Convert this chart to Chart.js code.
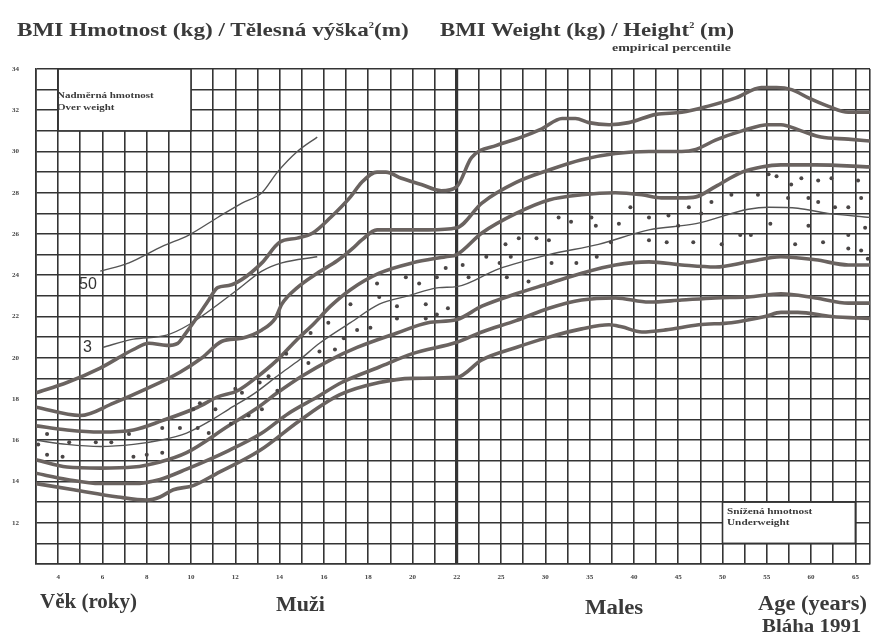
<!DOCTYPE html>
<html>
<head>
<meta charset="utf-8">
<script src="https://cdn.jsdelivr.net/npm/chart.js@4.4.1/dist/chart.umd.min.js"></script>
<style>
  body { margin: 0; background: #fff; }
  #wrap { position: relative; width: 879px; height: 635px; overflow: hidden; background: #fff; }
  #bmiChart { position: absolute; left: 0; top: 0; }
  .t { position: absolute; font-family: "Liberation Serif", "DejaVu Serif", serif; font-weight: bold;
       color: #3a3a3a; white-space: nowrap; line-height: 1; transform-origin: 0 0; }
  .s { position: absolute; font-family: "Liberation Sans", Arial, sans-serif; color: #333; line-height: 1; }
  sup { font-size: 0.45em; vertical-align: 0.9em; }
</style>
</head>
<body>
<div id="wrap">
  <canvas id="bmiChart" width="879" height="635"></canvas>

  <div class="t" style="left:17px;top:20px;font-size:19px;transform:scaleX(1.22)">BMI Hmotnost (kg) / Tělesná výška<sup>2</sup>(m)</div>
  <div class="t" style="left:440px;top:20px;font-size:19px;transform:scaleX(1.2)">BMI Weight (kg) / Height<sup>2</sup> (m)</div>
  <div class="t" style="left:612px;top:42px;font-size:11px;transform:scaleX(1.27)">empirical percentile</div>

  <div class="t" style="left:57px;top:91px;font-size:9px;transform:scaleX(1.22)">Nadměrná hmotnost</div>
  <div class="t" style="left:57px;top:103px;font-size:9px;transform:scaleX(1.22)">Over weight</div>
  <div class="t" style="left:727px;top:507px;font-size:9px;transform:scaleX(1.25)">Snížená hmotnost</div>
  <div class="t" style="left:727px;top:518px;font-size:9px;transform:scaleX(1.25)">Underweight</div>

  <div class="s" style="left:79px;top:276px;font-size:16px">50</div>
  <div class="s" style="left:83px;top:339px;font-size:16px">3</div>

  <div class="t" style="left:40px;top:591px;font-size:21px">Věk (roky)</div>
  <div class="t" style="left:276px;top:594px;font-size:20px;transform:scaleX(1.1)">Muži</div>
  <div class="t" style="left:585px;top:597px;font-size:20px;transform:scaleX(1.14)">Males</div>
  <div class="t" style="left:758px;top:593px;font-size:20px;transform:scaleX(1.12)">Age (years)</div>
  <div class="t" style="left:762px;top:616px;font-size:19px;transform:scaleX(1.1)">Bláha 1991</div>
</div>

<script>
// percentile curves, [age, BMI]
const p97 = [[3,18.3],[4.4,18.8],[5.9,19.5],[7.4,20.4],[8.1,20.7],[8.9,20.6],[9.4,20.7],[9.7,21.1],[10.3,22.0],[10.8,22.8],[11.2,23.4],[11.7,23.5],[12.3,23.8],[13.2,24.6],[14.0,25.6],[14.8,25.8],[15.5,26.05],[16.3,26.8],[17.2,27.8],[17.7,28.5],[18.4,29.0],[18.8,29.0],[19.5,28.7],[20.4,28.4],[21.3,28.1],[22,28.3],[23.0,29.7],[24.7,30.3],[27.0,30.65],[29.6,31.1],[31.9,31.6],[33.4,31.6],[34.9,31.4],[37.2,31.3],[39.4,31.4],[42.5,31.8],[45.4,31.9],[48.4,32.2],[51.5,32.6],[54.4,33.1],[56.1,33.1],[57.8,33.0],[59.7,32.6],[61.9,32.2],[64.2,31.9],[66.8,31.9]];
const p90 = [[3,17.6],[5.0,17.2],[6.5,17.8],[8.0,18.5],[9.5,19.3],[10.5,20.0],[11.4,20.8],[12.3,20.95],[13.2,21.35],[13.8,21.9],[14.1,22.6],[14.8,23.4],[15.7,24.1],[16.6,24.7],[17.3,25.3],[17.7,25.7],[18.4,26.2],[19.3,26.2],[20.7,26.2],[22,26.3],[23.7,27.5],[26.7,28.5],[30.4,29.1],[34.1,29.6],[37.9,29.9],[41.7,30.0],[45.4,30.0],[47.0,30.1],[49.2,30.55],[52.2,31.0],[55.2,31.3],[56.6,31.3],[58.9,31.0],[61.1,30.7],[64.2,30.6],[66.8,30.5]];
const p75 = [[3,16.7],[4.4,16.5],[5.9,16.4],[7.4,16.5],[8.7,16.95],[10.3,17.6],[11.2,18.1],[12.1,18.4],[12.9,19.0],[13.9,19.9],[14.8,20.9],[15.5,21.6],[16.3,22.5],[17.2,23.3],[18.5,24.1],[20.0,24.6],[21.5,24.9],[22,25.0],[23.7,26.05],[26.7,27.0],[30.4,27.65],[34.1,27.9],[37.9,28.0],[40.9,27.9],[43.1,27.75],[45.4,27.75],[47.0,27.8],[49.2,28.3],[52.2,29.0],[54.4,29.25],[56.6,29.35],[60.5,29.35],[66.8,29.25]];
const p50 = [[3,16.0],[4.4,15.8],[5.9,15.7],[7.4,15.8],[8.6,16.0],[9.8,16.35],[10.8,16.9],[11.7,17.5],[12.9,18.3],[14.0,19.2],[14.9,19.9],[15.8,20.7],[17.2,21.7],[18.5,22.6],[19.8,23.0],[21.2,23.4],[22,23.45],[24.8,24.3],[30.4,25.0],[36.0,25.5],[41.7,26.2],[47.0,26.5],[52.9,27.2],[55.2,27.3],[58.5,27.25],[61.9,27.0],[66.8,26.8]];
const p25 = [[3,15.05],[4.4,14.7],[5.9,14.65],[7.4,14.7],[8.6,14.95],[9.8,15.4],[11.7,16.7],[12.9,17.5],[13.9,18.3],[15.0,19.1],[16.3,19.9],[17.5,20.5],[19.3,21.2],[20.7,21.7],[22,21.85],[23.7,22.5],[26.7,23.1],[30.4,23.6],[34.1,24.1],[37.9,24.5],[41.7,24.65],[45.4,24.5],[49.2,24.4],[52.9,24.65],[56.6,24.9],[60.5,24.75],[64.2,24.5],[66.8,24.5]];
const p10 = [[3,14.4],[4.4,14.1],[5.9,13.9],[7.4,13.9],[8.6,14.1],[9.8,14.6],[11.7,15.5],[13.2,16.35],[14.4,17.3],[15.7,18.1],[16.8,18.8],[18.5,19.55],[20.0,20.2],[22,20.75],[23.7,21.25],[26.7,21.8],[30.4,22.4],[34.1,22.8],[37.9,22.9],[41.7,22.7],[45.4,22.8],[49.2,22.9],[52.9,22.95],[56.6,23.1],[60.5,22.9],[64.2,22.65],[66.8,22.65]];
const p3 = [[3,13.9],[4.7,13.6],[6.7,13.25],[8.0,13.1],[8.6,13.25],[9.2,13.6],[10.1,13.8],[11.1,14.35],[13.1,15.5],[14.9,16.95],[16.7,18.2],[18.5,18.8],[20.0,19.0],[22,19.05],[23.7,19.9],[26.7,20.5],[30.4,21.0],[34.1,21.4],[37.2,21.6],[38.6,21.5],[40.9,21.25],[43.6,21.35],[47.3,21.6],[51.0,21.7],[54.8,22.0],[56.6,22.2],[58.5,22.2],[62.3,22.0],[66.8,21.9]];

// older thin reference lines labelled "50" and "3"
const ref50 = [[5.9,24.2],[7.2,24.6],[8.7,25.4],[9.9,25.95],[11.2,26.8],[12.3,27.5],[13.2,28.0],[13.9,29.0],[14.8,30.0],[15.7,30.7]];
const ref3 = [[6.0,20.5],[7.4,20.9],[8.9,21.1],[9.9,21.6],[12.1,23.3],[13.2,24.2],[14.1,24.6],[15.7,24.9]];

// dots marking the 25-75 band
const bandDots = [[3.1,15.8],[3.5,16.3],[3.5,15.3],[4.2,15.2],[4.5,15.9],[5.7,15.9],[6.4,15.9],[7.2,16.3],[7.4,15.2],[8.0,15.3],[8.7,16.6],[8.7,15.4],[9.5,16.6],[10.3,16.6],[10.8,16.35],[10.4,17.8],[11.1,17.5],[10.1,17.5],[12.0,18.5],[12.3,18.3],[11.8,16.8],[12.6,17.2],[13.1,18.8],[13.2,17.5],[13.5,19.1],[13.9,18.4],[14.3,20.2],[15.3,19.75],[15.4,21.2],[15.8,20.3],[16.2,21.7],[16.5,20.4],[16.9,20.95],[17.2,22.6],[17.5,21.35],[18.1,21.45],[18.4,23.6],[18.5,22.95],[19.3,22.5],[19.3,21.9],[19.7,23.9],[20.3,23.6],[20.6,22.6],[20.6,21.9],[21.1,23.9],[21.1,22.1],[21.5,24.35],[21.6,22.4],
  [22.4,24.5],[22.8,23.9],[24.0,24.9],[24.9,24.6],[25.65,23.9],[26.1,24.9],[28.1,23.7],[25.5,25.5],[27.0,25.8],[29.0,25.8],[30.4,25.7],[30.7,24.6],[33.5,24.6],[31.5,26.8],[32.9,26.6],[35.2,26.8],[35.7,26.4],[35.8,24.9],[37.4,25.6],[38.3,26.5],[39.6,27.3],[41.7,26.8],[41.7,25.7],[43.7,25.6],[43.9,26.9],[45.0,26.4],[46.2,27.3],[46.7,25.6],[47.6,27.0],[48.75,27.55],[49.9,25.5],[51.0,27.9],[52.0,25.95],[53.2,25.95],[54.0,27.9],[55.2,28.9],[56.1,28.8],[55.4,26.5],[57.75,28.4],[57.4,27.75],[58.2,25.5],[58.9,28.7],[59.7,27.75],[59.7,26.4],[60.8,28.6],[60.8,27.55],[61.35,25.6],[62.3,28.7],[62.7,27.3],[64.2,27.3],[64.2,25.95],[64.2,25.3],[65.3,28.6],[65.65,27.75],[65.65,25.2],[66.1,26.3],[66.4,24.8]];

const ageLabels = [4,6,8,10,12,14,16,18,20,22,25,30,35,40,45,50,55,60,65];
const bmiLabels = [12,14,16,18,20,22,24,26,28,30,32,34];
const bmiMin = 10, bmiMax = 34;

// white label boxes [age from, age to, BMI from, BMI to]
const overBox = [4, 10, 31, 34];
const underBox = [50, 65, 11, 13];

// the sheet is two joined scales: 1 year per cell to 22, then 2.5 years per cell
function pos(age) {
  if (age <= 22) return age - 3;
  if (age <= 25) return 19 + (age - 22) / 1.5;
  return 21 + (age - 25) / 2.5;
}
function ageAt(p) {
  if (p <= 19) return p + 3;
  if (p <= 21) return 22 + (p - 19) * 1.5;
  return 25 + (p - 21) * 2.5;
}
const xMax = 37.66;

const toXY = arr => arr.map(([a, b]) => ({ x: pos(a), y: b }));

const curveColor = '#6a6360';
const gridColor = '#343434';

function thick(data) {
  return { data: toXY(data), showLine: true, borderColor: curveColor, borderWidth: 3.6,
           pointRadius: 0, cubicInterpolationMode: 'monotone', fill: false };
}
function thin(data) {
  return { data: toXY(data), showLine: true, borderColor: '#555', borderWidth: 1.4,
           pointRadius: 0, cubicInterpolationMode: 'monotone', fill: false };
}

const boxPlugin = {
  id: 'boxes',
  beforeDatasetsDraw(chart) {
    const { ctx, scales: { x, y } } = chart;
    [overBox, underBox].forEach(b => {
      const x0 = x.getPixelForValue(pos(b[0])), x1 = x.getPixelForValue(pos(b[1]));
      const y0 = y.getPixelForValue(b[3]), y1 = y.getPixelForValue(b[2]);
      ctx.save();
      ctx.fillStyle = '#fff';
      ctx.fillRect(x0, y0, x1 - x0, y1 - y0);
      ctx.strokeStyle = gridColor;
      ctx.lineWidth = 1.6;
      ctx.strokeRect(x0, y0, x1 - x0, y1 - y0);
      ctx.restore();
    });
  }
};

const ctx = document.getElementById('bmiChart').getContext('2d');

new Chart(ctx, {
  type: 'scatter',
  data: {
    datasets: [
      { data: toXY(bandDots), pointRadius: 2, pointBackgroundColor: '#4a4646', pointBorderWidth: 0, showLine: false },
      thick(p97), thick(p90), thick(p75), thin(p50), thick(p25), thick(p10), thick(p3),
      thin(ref50), thin(ref3)
    ]
  },
  options: {
    responsive: false,
    animation: false,
    layout: { padding: { top: 69, right: 7, left: 0, bottom: 0 } },
    plugins: { legend: { display: false }, tooltip: { enabled: false } },
    scales: {
      x: {
        type: 'linear', min: 0, max: xMax,
        afterBuildTicks: s => {
          const t = [];
          for (let i = 0; i <= 37; i++) t.push({ value: i });
          t.push({ value: xMax });
          s.ticks = t;
        },
        afterFit: s => { s.height = 71; },
        ticks: {
          autoSkip: false, maxRotation: 0, padding: 9,
          font: { family: 'Liberation Serif', size: 7, weight: 'bold' }, color: '#444',
          callback: v => {
            if (Math.abs(v - Math.round(v)) > 0.01) return '';
            const a = ageAt(v);
            return ageLabels.includes(a) ? String(a) : '';
          }
        },
        grid: {
          color: gridColor, drawTicks: false,
          lineWidth: c => (c.tick && c.tick.value === 19 ? 3.2 : 1.6)
        },
        border: { display: true, color: gridColor, width: 1.6 }
      },
      y: {
        min: bmiMin, max: bmiMax,
        ticks: {
          stepSize: 1, padding: 17,
          font: { family: 'Liberation Serif', size: 7, weight: 'bold' }, color: '#444',
          callback: v => (bmiLabels.includes(v) ? String(v) : '')
        },
        afterFit: s => { s.width = 36; },
        grid: { color: gridColor, lineWidth: 1.6, drawTicks: false },
        border: { display: true, color: gridColor, width: 1.6 }
      }
    }
  },
  plugins: [boxPlugin]
});
</script>
</body>
</html>
